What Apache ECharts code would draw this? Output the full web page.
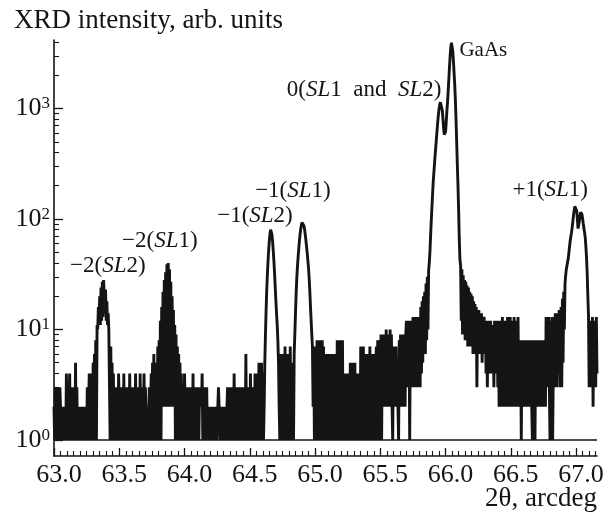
<!DOCTYPE html>
<html><head><meta charset="utf-8">
<script src="https://cdn.jsdelivr.net/npm/echarts@6/dist/echarts.min.js"></script>
<style>html,body{margin:0;padding:0;background:#fff}#c{width:608px;height:514px}</style>
</head><body><div id="c"></div>
<script>
// ---- scan grid (2θ, arcdeg) ----
const scanStart = 63.0;
const scanStep = 0.005;

// ---- intensity, segment by segment (counts) ----
const noiseA = [2,1,3,1,2,3,1,2,1,3,2,1,2,1,2,1,2,2,1,4,1,3,1,2,4,1,3,2,1,3,1,2,1,5,1,3,1,2,1,1,2,1,2,1,2,1,2,2,1,2,1,3,1,2,4,1,3,4];
const peakM2SL2 = [4,1,5,1,6,2,8,1,11,10,16,11,20,11,24,12,27,13,28,28,14,23,12,18,11,14,10,10,1,7,2,5,1,4,1,3,1,3];
const noiseB = [1,3,1,4,2,1,3,1,2,3,1,4,1,2,3,1,3,1,2,1,4,1,3,2,1,3,1,2,1,4,1,3,1,2,3,1,4,1,2,3,1,2,4,1,3,2,2,1,2,1,3,1,2,4,1,5,2,6,1];
const peakM2SL1 = [4,1,5,1,7,1,8,2,12,1,16,2,22,2,28,2,33,3,39,2,40,3,35,2,27,2,20,2,15,2,11,1,9,1,7,1,6,1,5,1,4];
const noiseC = [4,1,3,1,4,2,1,3,1,3,2,1,3,1,2,3, 1,4,1,3,2,1,3,1,2,3,1,3, 2,3,2,4,1,3,1,2,3,1,3,1, 2,1,2,1,2,2,1,2,1,2,1,2,1,2,1,2, 3,2,2,1,2,1,2,1,2,2,1,2,1,2, 3,1,2,3,1,3,1,2,3,1,4,1, 3,1,2,3,1,3,1,2,1,3,1,3,2,1,3,1,6,1, 3,1,2,3,1,4,1,3,1,2,3,1,4,1,3,1,4, 1,5,1,4];
const peakM1SL2 = [1,5,1,4,1,2,5,9,15,23,32,42,53,64,74,80,79,72,62,51,41,32,24,18,14,11,8,5,2,1];
const valleyM1 = [1,6,1,5,2,6,1,7,1,6,2,5,1,6,1,7,1,5];
const peakM1SL1 = [1,5,1,6,9,14,21,29,37,45,54,63,72,81,88,93,94,92,87,80,72,64,56,49,42,36,29,22,16,12,9,7,2,7,1,6];
const noiseD = [7,1,8,1,6,2, 8,1,7,1,8,2,7, 1,6,1,5,2,6,1,6,1,4,6,1,5,2,6,1,6,1,5,1, 8,1,6,2,8,1,3,2,8, 1,4,1,3,4,1,2,4,1,3,1, 5,1,4,2,5,1,3,5,1,4,1, 4,1,3,4,1, 7,1,5,2,7,1,6,1, 6,2,5,1,6,1,7,2,5,1,6,1,4,6,1,5,7,1, 8,1,6,8,1, 9,1,8,2,9,3,7,2,10,2, 9,2,8,3,10,2,9,2, 1,7,3,6,2,7,3,5,2,1, 8,2,9,3,7,2,9,3,8,2,9, 12,3,11,4,12,1,10,3,12, 3,13,4,12,3,13,4,11,3,13,4,12,3, 16,4,18,5,20,6];
const peakGaAs = [22,6,26,8,30,10,34,40,50,70,95,125,165,215,260,315,380,450,540,640,760,880,990,1080,1140,1150,1100,960,800,660,580,560,620,760,950,1150,1450,1850,2400,3000,3600,3950,3800,3300,2700,2100,1650,1200,800,500,310,200,120,65,43,38,12,35,9,31,10,28,8,27,9,25,7,24,8,22,7,21,8,20,6,18,7,17,6,16,3,15,6];
const noiseE = [15,6,14,7,14,5,13,6,13,7,12,4,12, 3,12,5,11,4,12,5,10,4,11,3,12,5,10,4,12,3,11, 2,12,3,11,2,13,4,12,2,11,3,12,2,13,3,12, 2,13,3,11,2,12,4,13,2,11,3,12,2,13,3, 8,2,8,1,8,3,8,2,7,2,8,3,8,2,8,2,8,2,8,2,1,8,3,7,1,8,2,8,3,8,2,7,2,8,3,8,2,8,2,8,2, 13,3,12,4,13,3,1,12,3,13,1,4,13,3,14,4,13,3,14,4,15];
const peakP1SL1 = [14,3,16,3,19,5,22,10,26,31,35,38,41,44,50,57,64,70,76,84,95,108,120,130,134,132,118,98,82,84,96,108,115,116,110,100,90,82,75,68,56,44,32,20,13,3,11];
const noiseF = [3,12,4,13,2,11,3,12,3,13,4];

// ---- axis ticks ----
const xMajorTicks = [63.0, 63.5, 64.0, 64.5, 65.0, 65.5, 66.0, 66.5, 67.0];
const yMajorTicks = [1, 10, 100, 1000];
const yMinorTicks = [2,3,4,5,6,7,8,9,20,30,40,50,60,70,80,90,200,300,400,500,600,700,800,900,2000,3000,4000];

// ---- peak annotations (text, 2θ, intensity) ----
const peakLabels = ['−2({i|SL}2)', '−2({i|SL}1)', '−1({i|SL}2)', '−1({i|SL}1)', '+1({i|SL}1)'];
const peakLabelTheta = [63.123, 63.521, 64.250, 64.541, 66.512];
const peakLabelIntensity = [37.5, 63.2, 106, 179, 183];
const zeroLabel = '0({i|SL}1  and  {i|SL}2)';
const zeroLabelAt = [65.968, 1470];
const substrateLabel = 'GaAs';
const substrateLabelAt = [66.106, 3383];

// ---- build ----
const intensity = [].concat(noiseA, peakM2SL2, noiseB, peakM2SL1, noiseC, peakM1SL2, valleyM1,
  peakM1SL1, noiseD, peakGaAs, noiseE, peakP1SL1, noiseF);
const seriesData = intensity.map((v, i) => [+(scanStart + i * scanStep).toFixed(3), v]);

const xMinorTicks = [];
xMajorTicks.forEach(m => { for (let k = 1; k < 10; k++) { const v = +(m + k * 0.05).toFixed(2); if (v <= 67.16) xMinorTicks.push(v); } });

const FONT = 'Liberation Serif';
const INK = '#141414';
const rich = { i: { fontStyle: 'italic', fontFamily: FONT, fontSize: 23, color: INK } };

const markData = peakLabels.map((t, k) => ({
  coord: [peakLabelTheta[k], peakLabelIntensity[k]],
  label: { formatter: t, position: 'right', distance: 0 }
}));
markData.push({ coord: zeroLabelAt, label: { formatter: zeroLabel, position: 'left', distance: 0 } });
markData.push({ coord: substrateLabelAt, label: { formatter: substrateLabel, position: 'right', distance: 0, fontSize: 21 } });

const chart = echarts.init(document.getElementById('c'), null, { renderer: 'canvas' });
const axisLineStyle = { color: INK, width: 1.6 };
chart.setOption({
  animation: false,
  backgroundColor: '#ffffff',
  title: [
    { text: 'XRD intensity, arb. units', left: 14, top: 7, padding: 0,
      textStyle: { fontFamily: FONT, fontSize: 27, fontWeight: 'normal', color: INK } },
    { text: '2θ, arcdeg', right: 11, top: 485, padding: 0,
      textStyle: { fontFamily: FONT, fontSize: 27, fontWeight: 'normal', color: INK } }
  ],
  grid: { left: 54, right: 11, top: 40, bottom: 58 },
  xAxis: [
    { type: 'value', min: 63.0, max: 67.16, position: 'bottom',
      axisLine: { onZero: false, lineStyle: axisLineStyle },
      axisTick: { inside: true, length: 8, customValues: xMajorTicks, lineStyle: { color: INK, width: 1.3 } },
      axisLabel: { customValues: xMajorTicks, formatter: v => v.toFixed(1), fontFamily: FONT, fontSize: 26, color: INK, margin: 6, padding: [0, 0, 0, 10] },
      splitLine: { show: false } },
    { type: 'value', min: 63.0, max: 67.16, position: 'bottom',
      axisLine: { show: false, onZero: false },
      axisTick: { inside: true, length: 5, customValues: xMinorTicks, lineStyle: { color: INK, width: 1.1 } },
      axisLabel: { show: false }, splitLine: { show: false } }
  ],
  yAxis: [
    { type: 'log', logBase: 10, min: 0.716, max: 4170, position: 'left',
      axisLine: { show: true, onZero: false, lineStyle: axisLineStyle },
      axisTick: { show: true, inside: true, length: 9, customValues: yMajorTicks, lineStyle: { color: INK, width: 1.3 } },
      axisLabel: { customValues: yMajorTicks, margin: 4,
        formatter: v => '{b|10}{s|' + Math.round(Math.log10(v)) + '}',
        rich: { b: { fontFamily: FONT, fontSize: 26, color: INK }, s: { fontFamily: FONT, fontSize: 17, color: INK, verticalAlign: 'top' } } },
      splitLine: { show: false } },
    { type: 'log', logBase: 10, min: 0.716, max: 4170, position: 'left',
      axisLine: { show: false, onZero: false },
      axisTick: { show: true, inside: true, length: 5, customValues: yMinorTicks, lineStyle: { color: INK, width: 1.1 } },
      axisLabel: { show: false }, splitLine: { show: false } }
  ],
  series: [{
    type: 'line', xAxisIndex: 0, yAxisIndex: 0, data: seriesData,
    showSymbol: false, symbol: 'none', sampling: null, clip: true,
    lineStyle: { color: INK, width: 2.9, join: 'bevel' },
    markLine: { silent: true, symbol: 'none', label: { show: false },
      lineStyle: { color: INK, width: 1.6, type: 'solid' }, data: [{ yAxis: 1 }] },
    markPoint: { silent: true, symbol: 'circle', symbolSize: 0,
      label: { show: true, fontFamily: FONT, fontSize: 23, color: INK, rich: rich },
      data: markData }
  }]
});
</script></body></html>
